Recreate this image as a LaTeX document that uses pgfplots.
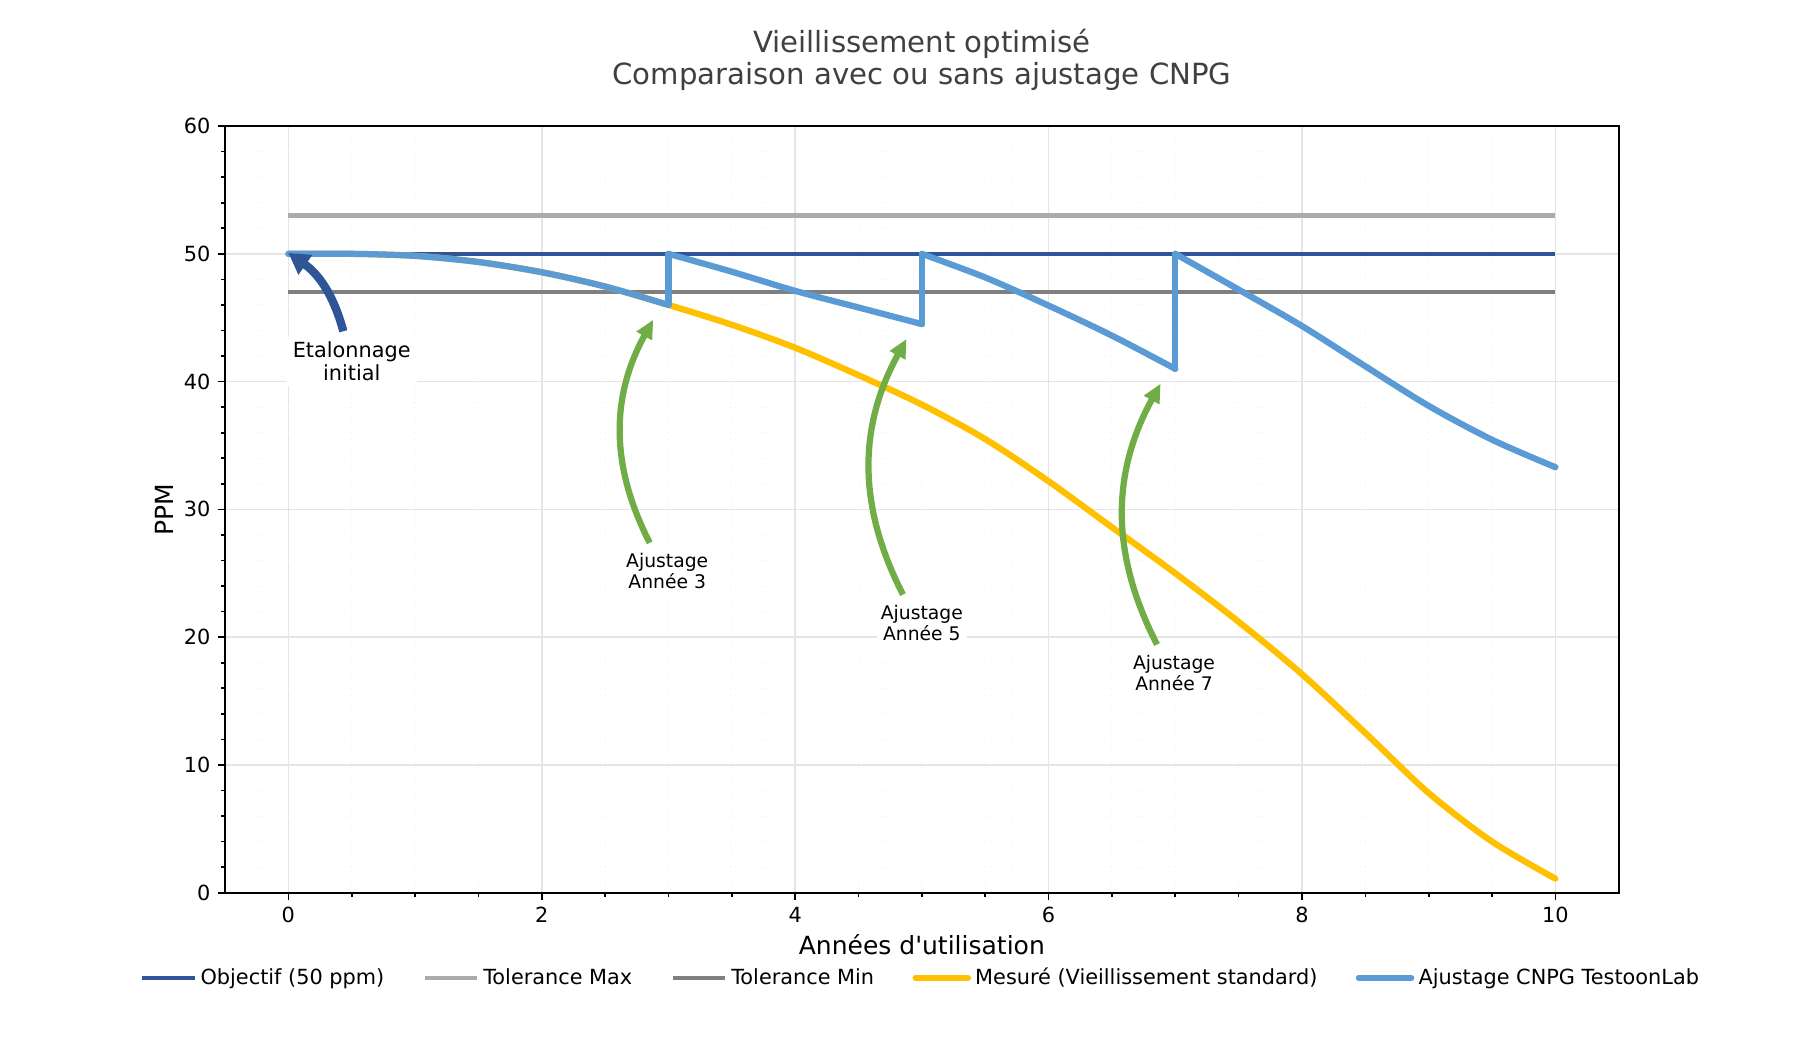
\documentclass[border=0pt]{standalone}
\usepackage{fontspec}
\setmainfont{DejaVu Sans}
\usepackage{pgfplots}
\pgfplotsset{compat=1.18}
\usetikzlibrary{arrows.meta}
\definecolor{objc}{HTML}{2F5597}
\definecolor{tmax}{HTML}{ABABAB}
\definecolor{tmin}{HTML}{7F7F7F}
\definecolor{mes}{HTML}{FFC000}
\definecolor{adj}{HTML}{5B9BD5}
\definecolor{grn}{HTML}{70AD47}
\definecolor{ttl}{HTML}{404040}
\begin{document}
\begin{tikzpicture}
\useasboundingbox (-108pt,-75.4pt) rectangle (756pt,428.5pt);
\begin{axis}[
  name=ax,
  scale only axis, width=669pt, height=368pt,
  xmin=-0.5, xmax=10.5, ymin=0, ymax=60,
  xtick={0,2,...,10}, ytick={0,10,...,60},
  minor x tick num=3, minor y tick num=4,
  tick align=outside, tick pos=left,
  major tick length=3.5pt, minor tick length=2pt,
  every tick/.style={black, line width=0.8pt},
  grid=both,
  major grid style={gray!20, line width=0.8pt},
  minor grid style={gray!10, line width=0.5pt, dotted},
  axis line style={line width=0.8pt},
  ticklabel style={font=\fontsize{10}{12}\selectfont},
  /pgf/number format/assume math mode=true,
  xlabel={Années d\textquotesingle utilisation}, ylabel={PPM},
  label style={font=\fontsize{12}{14}\selectfont},
  xlabel style={at={(axis description cs:0.5,-0.068)}, anchor=center},
  ylabel style={at={(axis description cs:-0.0438,0.5)}, anchor=center},
  legend columns=5,
  legend style={draw=none, fill=none, at={(0.5,-0.111)}, anchor=center,
    font=\fontsize{10}{12}\selectfont,
    /tikz/every even column/.append style={column sep=16.5pt}},
  legend image code/.code={\draw[#1] (0pt,0pt) -- (20pt,0pt); \path (0pt,0pt) -- (25pt,0pt);},
  legend cell align=left,
]
\addplot[objc, line width=1.8pt] coordinates {(0,50) (10,50)};
\addlegendentry{Objectif (50 ppm)}
\addplot[tmax, line width=2pt] coordinates {(0,53) (10,53)};
\addlegendentry{Tolerance Max}
\addplot[tmin, line width=2pt] coordinates {(0,47) (10,47)};
\addlegendentry{Tolerance Min}
\addplot[mes, line width=3pt, smooth, line cap=round] table {
x y
0 50.0
0.5 50.0
1.0 49.84
1.5 49.36
2.0 48.56
2.5 47.44
3.0 46.0
3.5 44.45
4.0 42.65
4.5 40.5
5.0 38.2
5.5 35.5
6.0 32.2
6.5 28.6
7.0 25.0
7.5 21.2
8.0 17.1
8.5 12.5
9.0 7.8
9.5 4.0
10.0 1.1
};
\addlegendentry{Mesuré (Vieillissement standard)}
\addplot[adj, line width=3pt, smooth, line cap=round] table {
x y
0 50.0
0.5 50.0
1.0 49.84
1.5 49.36
2.0 48.56
2.5 47.44
3.0 46.0
};
\addlegendentry{Ajustage CNPG TestoonLab}
\addplot[adj, line width=3pt, smooth, line cap=round, forget plot] table {
x y
3.0 50.0
3.5 48.6
4.0 47.1
4.5 45.8
5.0 44.5
};
\addplot[adj, line width=3pt, smooth, line cap=round, forget plot] table {
x y
5.0 50.0
5.5 48.15
6.0 45.95
6.5 43.6
7.0 41.0
};
\addplot[adj, line width=3pt, smooth, line cap=round, forget plot] table {
x y
7.0 50.0
7.5 47.2
8.0 44.35
8.5 41.2
9.0 38.1
9.5 35.45
10.0 33.3
};
\addplot[adj, line width=3pt, line cap=round, forget plot] coordinates {(3,46.0) (3,50.0)};
\addplot[adj, line width=3pt, line cap=round, forget plot] coordinates {(5,44.5) (5,50.0)};
\addplot[adj, line width=3pt, line cap=round, forget plot] coordinates {(7,41.0) (7,50.0)};

\node[fill=white, rounded corners=2pt, inner sep=3pt, align=center, font=\fontsize{10}{11.2}\selectfont] at (axis cs:0.5,41.6) {Etalonnage\\initial};
\draw[objc, line width=4pt, -{Triangle[length=10pt,width=11pt]}] (axis cs:0.434,43.94) to[bend right=20] (axis cs:0.0,50.07);

\node[fill=white, inner sep=2pt, align=center, font=\fontsize{9}{10}\selectfont] at (axis cs:2.99,25.16) {Ajustage\\Année 3};
\node[fill=white, inner sep=2pt, align=center, font=\fontsize{9}{10}\selectfont] at (axis cs:5.0,21.1) {Ajustage\\Année 5};
\node[fill=white, inner sep=2pt, align=center, font=\fontsize{9}{10}\selectfont] at (axis cs:6.99,17.18) {Ajustage\\Année 7};
\draw[grn, line width=3pt, -{Triangle[length=9pt,width=8pt]}] (axis cs:2.852,27.38) to[bend left=28] (axis cs:2.88,44.85);
\draw[grn, line width=3pt, -{Triangle[length=9pt,width=8pt]}] (axis cs:4.851,23.33) to[bend left=28] (axis cs:4.879,43.34);
\draw[grn, line width=3pt, -{Triangle[length=9pt,width=8pt]}] (axis cs:6.856,19.42) to[bend left=28] (axis cs:6.884,39.84);
\end{axis}
\node[align=center, text=ttl, font=\fontsize{14}{15.4}\selectfont, yshift=31.7pt] at (ax.north) {Vieillissement optimisé\\Comparaison avec ou sans ajustage CNPG};
\end{tikzpicture}
\end{document}
